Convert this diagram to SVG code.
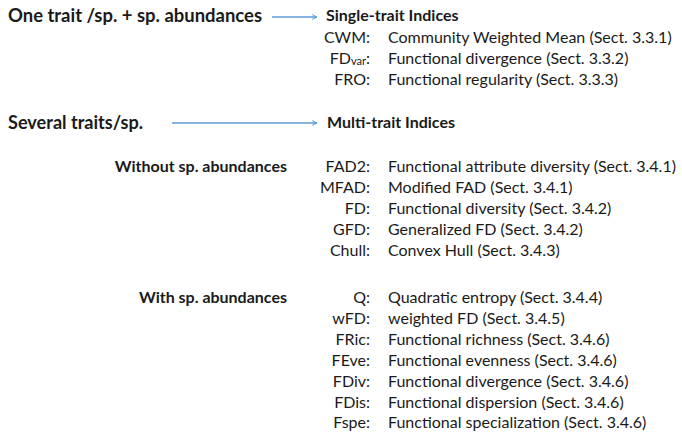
<svg xmlns="http://www.w3.org/2000/svg" width="682" height="432" viewBox="0 0 682 432">
<style>
text{font-family:Lato,"Open Sans","Liberation Sans",sans-serif;fill:#1a1a1a}
.h1{font-size:18.5px;font-weight:bold}
.h2{font-size:16px;font-weight:bold}
.lab{font-size:16px;text-anchor:end}
.d{font-size:16px}
.sub{font-size:11px}
.conn{stroke:#5b9bd5;stroke-width:1.6;fill:none}
</style>
<defs>
<marker id="arr" viewBox="0 0 10 10" refX="9" refY="5" markerWidth="6" markerHeight="6" orient="auto" markerUnits="userSpaceOnUse">
<path d="M1,1 L9,5 L1,9" fill="none" stroke="#5b9bd5" stroke-width="1.6"/>
</marker>
</defs>
<rect width="682" height="432" fill="#ffffff"/>
<g id="connectors">
<line class="conn" x1="272" y1="17" x2="317" y2="17" marker-end="url(#arr)"/>
<line class="conn" x1="172" y1="123" x2="317" y2="123" marker-end="url(#arr)"/>
</g>
<g id="one-trait">
<text class="h1" x="8" y="22" textLength="254" lengthAdjust="spacingAndGlyphs">One trait /sp. + sp. abundances</text>
</g>
<g id="several-traits">
<text class="h1" x="8" y="129" textLength="135" lengthAdjust="spacingAndGlyphs">Several traits/sp.</text>
</g>
<g id="single-trait">
<text class="h2" x="326" y="21">Single-trait Indices</text>
<text class="lab" x="370" y="43">CWM:</text><text class="d" x="388" y="43">Community Weighted Mean (Sect. 3.3.1)</text>
<text class="lab" x="370" y="64">FD<tspan class="sub" dy="1">var</tspan><tspan dy="-1">:</tspan></text><text class="d" x="388" y="64">Functional divergence (Sect. 3.3.2)</text>
<text class="lab" x="370" y="85">FRO:</text><text class="d" x="388" y="85">Functional regularity (Sect. 3.3.3)</text>
</g>
<g id="multi-trait">
<text class="h2" x="327" y="128">Multi-trait Indices</text>
</g>
<g id="without-abundances">
<text class="h2" x="287" y="172" text-anchor="end">Without sp. abundances</text>
<text class="lab" x="370" y="172">FAD2:</text><text class="d" x="388" y="172">Functional attribute diversity (Sect. 3.4.1)</text>
<text class="lab" x="370" y="193">MFAD:</text><text class="d" x="388" y="193">Modified FAD (Sect. 3.4.1)</text>
<text class="lab" x="370" y="214">FD:</text><text class="d" x="388" y="214">Functional diversity (Sect. 3.4.2)</text>
<text class="lab" x="370" y="235">GFD:</text><text class="d" x="388" y="235">Generalized FD (Sect. 3.4.2)</text>
<text class="lab" x="370" y="256">Chull:</text><text class="d" x="388" y="256">Convex Hull (Sect. 3.4.3)</text>
</g>
<g id="with-abundances">
<text class="h2" x="287" y="303" text-anchor="end">With sp. abundances</text>
<text class="lab" x="370" y="303">Q:</text><text class="d" x="388" y="303">Quadratic entropy (Sect. 3.4.4)</text>
<text class="lab" x="370" y="324">wFD:</text><text class="d" x="388" y="324">weighted FD (Sect. 3.4.5)</text>
<text class="lab" x="370" y="345">FRic:</text><text class="d" x="388" y="345">Functional richness (Sect. 3.4.6)</text>
<text class="lab" x="370" y="366">FEve:</text><text class="d" x="388" y="366">Functional evenness (Sect. 3.4.6)</text>
<text class="lab" x="370" y="387">FDiv:</text><text class="d" x="388" y="387">Functional divergence (Sect. 3.4.6)</text>
<text class="lab" x="370" y="408">FDis:</text><text class="d" x="388" y="408">Functional dispersion (Sect. 3.4.6)</text>
<text class="lab" x="370" y="428">Fspe:</text><text class="d" x="388" y="428">Functional specialization (Sect. 3.4.6)</text>
</g>
</svg>
